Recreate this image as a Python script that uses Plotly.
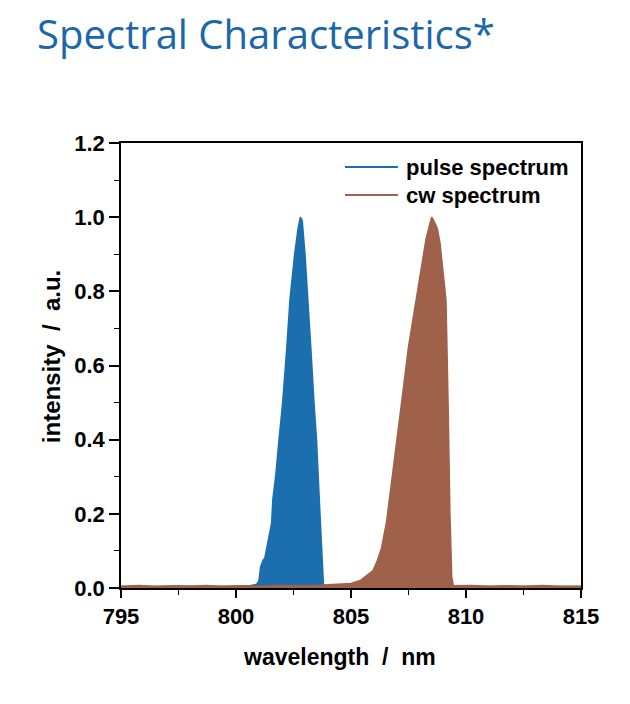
import plotly.graph_objects as go

# ---------------- data ----------------
pulse_wl = [795.0, 796.0, 797.0, 798.0, 799.0, 800.0, 800.6, 800.9, 801.0, 801.07, 801.18, 801.25,
            801.35, 801.55, 801.6, 801.74, 801.87, 802.03, 802.2, 802.35, 802.55, 802.7, 802.8,
            802.88, 803.0, 803.13, 803.26, 803.39, 803.5, 803.65, 803.75, 803.8, 803.85,
            804.5, 805.0, 805.5, 806.0, 808.0, 810.0, 812.0, 815.0]
pulse_int = [0.004, 0.005, 0.004, 0.005, 0.004, 0.005, 0.006, 0.01, 0.02, 0.057, 0.075, 0.08,
             0.11, 0.175, 0.237, 0.31, 0.40, 0.50, 0.64, 0.78, 0.90, 0.97, 1.00,
             0.99, 0.90, 0.78, 0.64, 0.50, 0.40, 0.20, 0.08, 0.01, 0.005,
             0.005, 0.006, 0.005, 0.004, 0.004, 0.004, 0.004, 0.004]

cw_wl = [795.0, 795.8, 796.5, 797.3, 798.0, 798.7, 799.5, 800.2, 801.0, 801.8, 802.5, 803.3,
         804.0, 804.6, 805.0, 805.4, 805.7, 805.96, 806.15, 806.33, 806.55, 806.72, 806.87,
         807.05, 807.2, 807.5, 807.83, 808.07, 808.26, 808.4, 808.51, 808.6, 808.75, 808.87,
         809.0, 809.13, 809.22, 809.3, 809.38, 809.45, 810.2, 811.0, 811.8, 812.5, 813.3,
         814.0, 815.0]
cw_int = [0.005, 0.007, 0.004, 0.006, 0.005, 0.007, 0.004, 0.006, 0.005, 0.007, 0.006, 0.006,
          0.009, 0.011, 0.012, 0.02, 0.035, 0.047, 0.075, 0.108, 0.18, 0.26, 0.33,
          0.42, 0.50, 0.65, 0.776, 0.88, 0.94, 0.975, 1.00, 0.99, 0.97, 0.93,
          0.85, 0.776, 0.50, 0.20, 0.03, 0.006, 0.007, 0.005, 0.006, 0.005, 0.007,
          0.005, 0.005]

series_names = ["pulse spectrum", "cw spectrum"]
x_ticks = [795, 800, 805, 810, 815]
y_ticks = [0.0, 0.2, 0.4, 0.6, 0.8, 1.0, 1.2]
x_title = "wavelength  /  nm"
y_title = "intensity  /  a.u."
chart_title = "Spectral Characteristics*"

BLUE = "#1b6fae"
BROWN = "#a0614a"
FONT = "Liberation Sans, Arial"

fig = go.Figure()
fig.add_trace(go.Scatter(x=pulse_wl, y=pulse_int, mode="lines", fill="tozeroy",
                         name=series_names[0],
                         line=dict(color=BLUE, width=1.5), fillcolor=BLUE,
                         showlegend=False, hoverinfo="skip"))
fig.add_trace(go.Scatter(x=cw_wl, y=cw_int, mode="lines", fill="tozeroy",
                         name=series_names[1],
                         line=dict(color=BROWN, width=1.5), fillcolor=BROWN,
                         showlegend=False, hoverinfo="skip"))

# manual legend (line sample + bold label) inside the top-right of the plot
legend_y = [0.946, 0.883]
legend_colors = [BLUE, BROWN]
for name, yy, col in zip(series_names, legend_y, legend_colors):
    fig.add_shape(type="line", xref="paper", yref="paper",
                  x0=0.487, x1=0.602, y0=yy, y1=yy,
                  line=dict(color=col, width=2))
    fig.add_annotation(text=name, xref="paper", yref="paper", x=0.615, y=yy,
                       xanchor="left", yanchor="middle", showarrow=False,
                       font=dict(family=FONT, size=22, color="black", weight="bold"))

# axis titles as annotations (placed like the reference)
fig.add_annotation(text=x_title, xref="paper", yref="paper", x=0.476, y=-0.155,
                   xanchor="center", yanchor="middle", showarrow=False,
                   font=dict(family=FONT, size=23, color="black", weight="bold"))
fig.add_annotation(text=y_title, xref="paper", yref="paper", x=-0.152, y=0.519,
                   xanchor="center", yanchor="middle", showarrow=False, textangle=-90,
                   font=dict(family=FONT, size=24, color="black", weight="bold"))

fig.update_layout(
    width=630, height=704,
    paper_bgcolor="white", plot_bgcolor="white",
    margin=dict(l=113, r=57, t=135, b=124),
    title=dict(text=chart_title, x=29/630, xanchor="left",
               y=1 - 27/704, yanchor="middle", yref="container",
               font=dict(family="Open Sans", size=40, color="#1b67a9")),
    showlegend=False,
)

fig.update_xaxes(range=[795, 815], tickvals=x_ticks, ticktext=[str(v) for v in x_ticks],
                 showline=True, linecolor="black", linewidth=1.5, mirror=True,
                 ticks="outside", ticklen=8, tickwidth=1.5, tickcolor="black",
                 minor=dict(dtick=2.5, ticks="outside", ticklen=5, tickwidth=1.2,
                            tickcolor="black", showgrid=False),
                 showgrid=False, zeroline=False,
                 tickfont=dict(family=FONT, size=22, color="black", weight="bold"))
fig.update_yaxes(range=[0, 1.2], tickvals=y_ticks, ticktext=[f"{v:.1f}" for v in y_ticks],
                 showline=True, linecolor="black", linewidth=1.5, mirror=True,
                 ticks="outside", ticklen=10, tickwidth=1.5, tickcolor="black",
                 minor=dict(dtick=0.1, ticks="outside", ticklen=5, tickwidth=1.2,
                            tickcolor="black", showgrid=False),
                 showgrid=False, zeroline=False,
                 tickfont=dict(family=FONT, size=22, color="black", weight="bold"))

fig.write_html("out.html")
